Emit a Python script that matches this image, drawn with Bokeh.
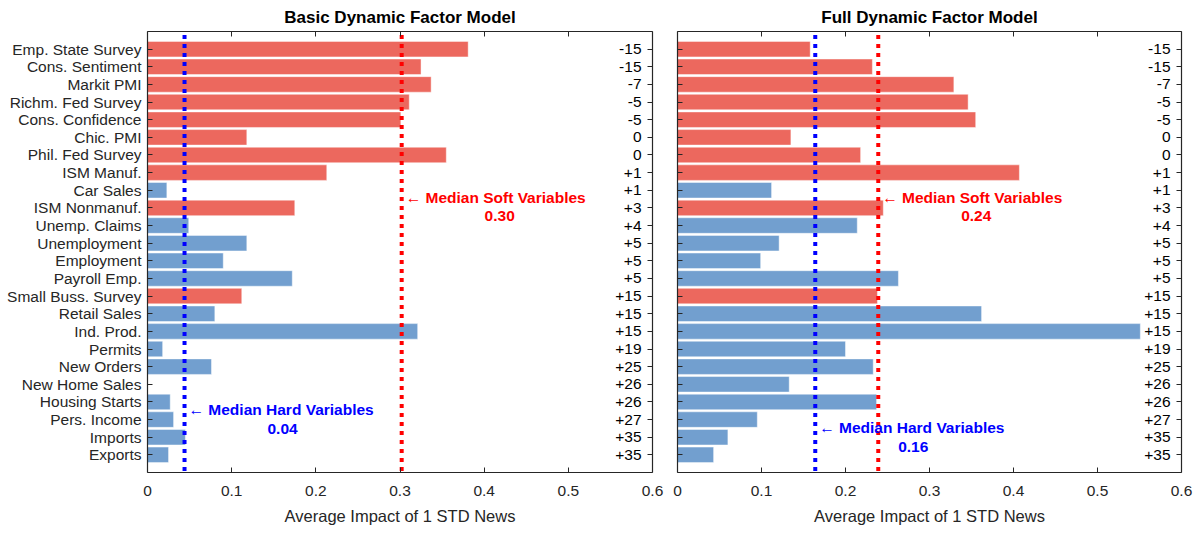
from bokeh.plotting import figure
from bokeh.models import Range1d, FixedTicker, LinearAxis, ColumnDataSource
from bokeh.layouts import row
from bokeh.embed import file_html
from bokeh.resources import INLINE
from bokeh.core.properties import value

variables = ["Emp. State Survey", "Cons. Sentiment", "Markit PMI", "Richm. Fed Survey",
             "Cons. Confidence", "Chic. PMI", "Phil. Fed Survey", "ISM Manuf.", "Car Sales",
             "ISM Nonmanuf.", "Unemp. Claims", "Unemployment", "Employment", "Payroll Emp.",
             "Small Buss. Survey", "Retail Sales", "Ind. Prod.", "Permits", "New Orders",
             "New Home Sales", "Housing Starts", "Pers. Income", "Imports", "Exports"]
var_type = ["soft", "soft", "soft", "soft", "soft", "soft", "soft", "soft", "hard",
            "soft", "hard", "hard", "hard", "hard", "soft", "hard", "hard", "hard", "hard",
            "hard", "hard", "hard", "hard", "hard"]
release_lag = ["-15", "-15", "-7", "-5", "-5", "0", "0", "+1", "+1", "+3", "+4", "+5", "+5",
               "+5", "+15", "+15", "+15", "+19", "+25", "+26", "+26", "+27", "+35", "+35"]
basic_impact = [0.381, 0.325, 0.337, 0.311, 0.301, 0.118, 0.355, 0.213, 0.023, 0.175,
                0.049, 0.118, 0.090, 0.172, 0.112, 0.080, 0.321, 0.018, 0.076, 0.0,
                0.027, 0.031, 0.045, 0.025]
full_impact = [0.158, 0.232, 0.329, 0.346, 0.355, 0.135, 0.218, 0.407, 0.112, 0.245,
               0.214, 0.121, 0.099, 0.263, 0.238, 0.362, 0.551, 0.200, 0.233, 0.133,
               0.237, 0.095, 0.060, 0.043]
basic_median_hard = 0.044
basic_median_soft = 0.302
full_median_hard = 0.164
full_median_soft = 0.239
x_ticks = [0, 0.1, 0.2, 0.3, 0.4, 0.5, 0.6]
x_tick_labels = ["0", "0.1", "0.2", "0.3", "0.4", "0.5", "0.6"]

FONT = "Liberation Sans"
DARK = "#262626"
RED = "#ec685e"
BLUE = "#729fcf"
colors = [RED if t == "soft" else BLUE for t in var_type]
ypos = list(range(1, len(variables) + 1))


def style_axis(ax, ticks, labels=None):
    ax.axis_line_color = DARK
    ax.axis_line_width = 1.2
    ax.major_tick_line_color = DARK
    ax.major_tick_in = 5
    ax.major_tick_out = 0
    ax.minor_tick_line_color = None
    ax.major_label_text_font = FONT
    ax.major_label_text_color = DARK
    ax.major_label_text_font_size = "15.5px"
    if labels is None:
        ax.major_label_overrides = {t: "" for t in ticks}
        ax.major_label_standoff = 0
    else:
        ax.major_label_overrides = dict(zip(ticks, labels))


def panel(title, impacts, med_hard, med_soft, show_names, hard_y, width, bl, br):
    p = figure(width=width, height=532, output_backend="svg", toolbar_location=None,
               x_range=Range1d(0, 0.6), y_range=Range1d(25, 0),
               x_axis_location=None, y_axis_location=None,
               min_border_left=bl, min_border_right=br, min_border_top=29,
               min_border_bottom=60)
    p.grid.visible = False
    p.outline_line_color = None
    p.title.text = title
    p.title.align = "center"
    p.title.text_font = FONT
    p.title.text_font_size = "17px"
    p.title.text_font_style = "bold"
    p.title.text_color = "black"

    xb = LinearAxis(ticker=FixedTicker(ticks=x_ticks))
    style_axis(xb, x_ticks, x_tick_labels)
    xb.major_label_standoff = 13
    xb.axis_label = "Average Impact of 1 STD News"
    xb.axis_label_text_font = FONT
    xb.axis_label_text_font_style = "normal"
    xb.axis_label_text_font_size = "16.5px"
    xb.axis_label_text_color = DARK
    xb.axis_label_standoff = 8
    p.add_layout(xb, "below")
    xa = LinearAxis(ticker=FixedTicker(ticks=x_ticks))
    style_axis(xa, x_ticks)
    p.add_layout(xa, "above")

    yl = LinearAxis(ticker=FixedTicker(ticks=ypos))
    style_axis(yl, ypos, variables if show_names else None)
    if show_names:
        yl.major_label_standoff = 6
    p.add_layout(yl, "left")
    yr = LinearAxis(ticker=FixedTicker(ticks=ypos))
    style_axis(yr, ypos)
    p.add_layout(yr, "right")

    src = ColumnDataSource(dict(y=ypos, v=impacts, c=colors, lag=release_lag,
                                xr=[0.6] * len(ypos)))
    p.hbar(y="y", left=0, right="v", height=0.88, fill_color="c", line_color="white",
           line_alpha=0.45, line_width=1, source=src)

    p.segment(x0=[med_hard], x1=[med_hard], y0=[0.2], y1=[24.95], line_color="#0000ff",
              line_width=4, line_dash="4 5")
    p.segment(x0=[med_soft], x1=[med_soft], y0=[0.2], y1=[24.95], line_color="#ff0000",
              line_width=4, line_dash="4 5")

    p.text(x="xr", y="y", text="lag", source=src, text_align="right",
           text_baseline="middle", x_offset=-11, text_font=value(FONT),
           text_font_size="15.5px", text_color="black")

    p.text(x=[med_soft], y=[9.4], text=["\u2190 Median Soft Variables"], x_offset=4,
           text_align="left", text_baseline="middle", text_font=value(FONT),
           text_font_size="15.5px", text_font_style="bold", text_color="#ff0000")
    p.text(x=[med_soft], y=[10.45], text=[f"{med_soft:.2f}"], x_offset=98,
           text_align="center", text_baseline="middle", text_font=value(FONT),
           text_font_size="15.5px", text_font_style="bold", text_color="#ff0000")
    p.text(x=[med_hard], y=[hard_y], text=["\u2190 Median Hard Variables"], x_offset=4,
           text_align="left", text_baseline="middle", text_font=value(FONT),
           text_font_size="15.5px", text_font_style="bold", text_color="#0000ff")
    p.text(x=[med_hard], y=[hard_y + 1.1], text=[f"{med_hard:.2f}"], x_offset=98,
           text_align="center", text_baseline="middle", text_font=value(FONT),
           text_font_size="15.5px", text_font_style="bold", text_color="#0000ff")
    return p


left = panel("Basic Dynamic Factor Model", basic_impact, basic_median_hard,
             basic_median_soft, True, 21.45, 665, 147, 13)
right = panel("Full Dynamic Factor Model", full_impact, full_median_hard,
              full_median_soft, False, 22.45, 536, 12, 20)

p = row(left, right)
open("out.html", "w").write(file_html(p, INLINE))
